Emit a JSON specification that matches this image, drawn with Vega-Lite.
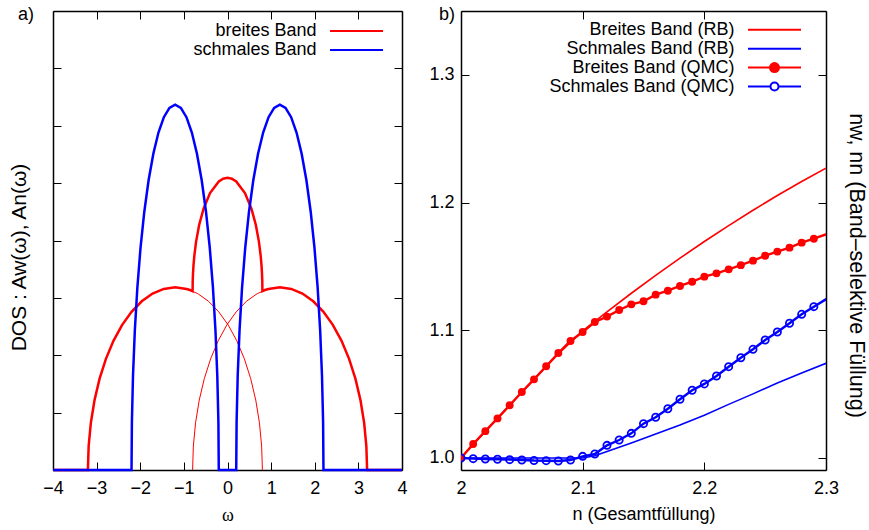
{
  "$schema": "https://vega.github.io/schema/vega-lite/v6.json",
  "background": "white",
  "padding": {"left": 8, "top": 5, "right": 5, "bottom": 5},
  "config": {
    "font": "Liberation Sans",
    "view": {"stroke": null},
    "axis": {"grid": false, "domainColor": "black", "domainWidth": 1.5, "tickColor": "black", "tickWidth": 1, "tickSize": -8, "labelFlush": false, "labelFontSize": 18, "labelColor": "black", "labelFont": "Liberation Sans", "titleFontSize": 18, "titleFontWeight": "normal", "titleColor": "black", "titleFont": "Liberation Sans"},
    "title": {"fontSize": 18, "fontWeight": "normal", "anchor": "start", "frame": "group", "font": "Liberation Sans", "color": "black", "offset": 0, "baseline": "alphabetic"}
  },
  "resolve": {"scale": {"color": "independent"}, "legend": {"color": "independent"}},
  "datasets": {
    "semi": [
      {"w": -3.2, "A": 0, "s": "L"}, {"w": -3.18288, "A": 0.04155, "s": "L"}, {"w": -3.13186, "A": 0.08238, "s": "L"}, {"w": -3.04776, "A": 0.12181, "s": "L"}, {"w": -2.93205, "A": 0.15915, "s": "L"}, {"w": -2.7867, "A": 0.19377, "s": "L"}, {"w": -2.61421, "A": 0.22508, "s": "L"}, {"w": -2.41752, "A": 0.25253, "s": "L"}, {"w": -2.2, "A": 0.27566, "s": "L"}, {"w": -1.96537, "A": 0.29407, "s": "L"}, {"w": -1.71764, "A": 0.30746, "s": "L"}, {"w": -1.46105, "A": 0.31558, "s": "L"}, {"w": -1.2, "A": 0.3183, "s": "L"}, {"w": -0.93895, "A": 0.31558, "s": "L"}, {"w": -0.68236, "A": 0.30746, "s": "L"}, {"w": -0.43463, "A": 0.29407, "s": "L"}, {"w": -0.2, "A": 0.27566, "s": "L"}, {"w": 0.01752, "A": 0.25253, "s": "L"}, {"w": 0.21421, "A": 0.22508, "s": "L"}, {"w": 0.3867, "A": 0.19377, "s": "L"}, {"w": 0.53205, "A": 0.15915, "s": "L"}, {"w": 0.64776, "A": 0.12181, "s": "L"}, {"w": 0.73186, "A": 0.08238, "s": "L"}, {"w": 0.78288, "A": 0.04155, "s": "L"}, {"w": 0.8, "A": 0, "s": "L"},
      {"w": -0.8, "A": 0, "s": "R"}, {"w": -0.78288, "A": 0.04155, "s": "R"}, {"w": -0.73186, "A": 0.08238, "s": "R"}, {"w": -0.64776, "A": 0.12181, "s": "R"}, {"w": -0.53205, "A": 0.15915, "s": "R"}, {"w": -0.3867, "A": 0.19377, "s": "R"}, {"w": -0.21421, "A": 0.22508, "s": "R"}, {"w": -0.01752, "A": 0.25253, "s": "R"}, {"w": 0.2, "A": 0.27566, "s": "R"}, {"w": 0.43463, "A": 0.29407, "s": "R"}, {"w": 0.68236, "A": 0.30746, "s": "R"}, {"w": 0.93895, "A": 0.31558, "s": "R"}, {"w": 1.2, "A": 0.3183, "s": "R"}, {"w": 1.46105, "A": 0.31558, "s": "R"}, {"w": 1.71764, "A": 0.30746, "s": "R"}, {"w": 1.96537, "A": 0.29407, "s": "R"}, {"w": 2.2, "A": 0.27566, "s": "R"}, {"w": 2.41752, "A": 0.25253, "s": "R"}, {"w": 2.61421, "A": 0.22508, "s": "R"}, {"w": 2.7867, "A": 0.19377, "s": "R"}, {"w": 2.93205, "A": 0.15915, "s": "R"}, {"w": 3.04776, "A": 0.12181, "s": "R"}, {"w": 3.13186, "A": 0.08238, "s": "R"}, {"w": 3.18288, "A": 0.04155, "s": "R"}, {"w": 3.2, "A": 0, "s": "R"}
    ],
    "dos": [
      {"w": -4, "A": 0, "b": "breites Band"}, {"w": -3.2, "A": 0, "b": "breites Band"}, {"w": -3.18288, "A": 0.04155, "b": "breites Band"}, {"w": -3.13186, "A": 0.08238, "b": "breites Band"}, {"w": -3.04776, "A": 0.12181, "b": "breites Band"}, {"w": -2.93205, "A": 0.15915, "b": "breites Band"}, {"w": -2.7867, "A": 0.19377, "b": "breites Band"}, {"w": -2.61421, "A": 0.22508, "b": "breites Band"}, {"w": -2.41752, "A": 0.25253, "b": "breites Band"}, {"w": -2.2, "A": 0.27566, "b": "breites Band"}, {"w": -1.96537, "A": 0.29407, "b": "breites Band"}, {"w": -1.71764, "A": 0.30746, "b": "breites Band"}, {"w": -1.46105, "A": 0.31558, "b": "breites Band"}, {"w": -1.2, "A": 0.3183, "b": "breites Band"}, {"w": -0.93895, "A": 0.31558, "b": "breites Band"}, {"w": -0.86, "A": 0.31367, "b": "breites Band"}, {"w": -0.8, "A": 0.31187, "b": "breites Band"}, {"w": -0.798, "A": 0.32605, "b": "breites Band"}, {"w": -0.795, "A": 0.3342, "b": "breites Band"}, {"w": -0.79, "A": 0.34333, "b": "breites Band"}, {"w": -0.78, "A": 0.35611, "b": "breites Band"}, {"w": -0.76, "A": 0.37384, "b": "breites Band"}, {"w": -0.72, "A": 0.39812, "b": "breites Band"}, {"w": -0.65, "A": 0.42697, "b": "breites Band"}, {"w": -0.55, "A": 0.45511, "b": "breites Band"}, {"w": -0.4, "A": 0.48271, "b": "breites Band"}, {"w": -0.2, "A": 0.50297, "b": "breites Band"}, {"w": -0.1, "A": 0.50772, "b": "breites Band"}, {"w": 0, "A": 0.50928, "b": "breites Band"}, {"w": 0.1, "A": 0.50772, "b": "breites Band"}, {"w": 0.2, "A": 0.50297, "b": "breites Band"}, {"w": 0.4, "A": 0.48271, "b": "breites Band"}, {"w": 0.55, "A": 0.45511, "b": "breites Band"}, {"w": 0.65, "A": 0.42697, "b": "breites Band"}, {"w": 0.72, "A": 0.39812, "b": "breites Band"}, {"w": 0.76, "A": 0.37384, "b": "breites Band"}, {"w": 0.78, "A": 0.35611, "b": "breites Band"}, {"w": 0.79, "A": 0.34333, "b": "breites Band"}, {"w": 0.795, "A": 0.3342, "b": "breites Band"}, {"w": 0.798, "A": 0.32605, "b": "breites Band"}, {"w": 0.8, "A": 0.31187, "b": "breites Band"}, {"w": 0.86, "A": 0.31367, "b": "breites Band"}, {"w": 0.93895, "A": 0.31558, "b": "breites Band"}, {"w": 1.2, "A": 0.3183, "b": "breites Band"}, {"w": 1.46105, "A": 0.31558, "b": "breites Band"}, {"w": 1.71764, "A": 0.30746, "b": "breites Band"}, {"w": 1.96537, "A": 0.29407, "b": "breites Band"}, {"w": 2.2, "A": 0.27566, "b": "breites Band"}, {"w": 2.41752, "A": 0.25253, "b": "breites Band"}, {"w": 2.61421, "A": 0.22508, "b": "breites Band"}, {"w": 2.7867, "A": 0.19377, "b": "breites Band"}, {"w": 2.93205, "A": 0.15915, "b": "breites Band"}, {"w": 3.04776, "A": 0.12181, "b": "breites Band"}, {"w": 3.13186, "A": 0.08238, "b": "breites Band"}, {"w": 3.18288, "A": 0.04155, "b": "breites Band"}, {"w": 3.2, "A": 0, "b": "breites Band"}, {"w": 4, "A": 0, "b": "breites Band"},
      {"w": -4, "A": 0, "b": "schmales Band"}, {"w": -2.2, "A": 0, "b": "schmales Band"}, {"w": -2.19144, "A": 0.0831, "b": "schmales Band"}, {"w": -2.16593, "A": 0.16477, "b": "schmales Band"}, {"w": -2.12388, "A": 0.24362, "b": "schmales Band"}, {"w": -2.06603, "A": 0.31831, "b": "schmales Band"}, {"w": -1.99335, "A": 0.38755, "b": "schmales Band"}, {"w": -1.90711, "A": 0.45016, "b": "schmales Band"}, {"w": -1.80876, "A": 0.50506, "b": "schmales Band"}, {"w": -1.7, "A": 0.55133, "b": "schmales Band"}, {"w": -1.58268, "A": 0.58816, "b": "schmales Band"}, {"w": -1.45882, "A": 0.61493, "b": "schmales Band"}, {"w": -1.33053, "A": 0.63117, "b": "schmales Band"}, {"w": -1.2, "A": 0.63662, "b": "schmales Band"}, {"w": -1.06947, "A": 0.63117, "b": "schmales Band"}, {"w": -0.94118, "A": 0.61493, "b": "schmales Band"}, {"w": -0.81732, "A": 0.58816, "b": "schmales Band"}, {"w": -0.7, "A": 0.55133, "b": "schmales Band"}, {"w": -0.59124, "A": 0.50506, "b": "schmales Band"}, {"w": -0.49289, "A": 0.45016, "b": "schmales Band"}, {"w": -0.40665, "A": 0.38755, "b": "schmales Band"}, {"w": -0.33397, "A": 0.31831, "b": "schmales Band"}, {"w": -0.27612, "A": 0.24362, "b": "schmales Band"}, {"w": -0.23407, "A": 0.16477, "b": "schmales Band"}, {"w": -0.20856, "A": 0.0831, "b": "schmales Band"}, {"w": -0.2, "A": 0, "b": "schmales Band"}, {"w": 0.2, "A": 0, "b": "schmales Band"}, {"w": 0.20856, "A": 0.0831, "b": "schmales Band"}, {"w": 0.23407, "A": 0.16477, "b": "schmales Band"}, {"w": 0.27612, "A": 0.24362, "b": "schmales Band"}, {"w": 0.33397, "A": 0.31831, "b": "schmales Band"}, {"w": 0.40665, "A": 0.38755, "b": "schmales Band"}, {"w": 0.49289, "A": 0.45016, "b": "schmales Band"}, {"w": 0.59124, "A": 0.50506, "b": "schmales Band"}, {"w": 0.7, "A": 0.55133, "b": "schmales Band"}, {"w": 0.81732, "A": 0.58816, "b": "schmales Band"}, {"w": 0.94118, "A": 0.61493, "b": "schmales Band"}, {"w": 1.06947, "A": 0.63117, "b": "schmales Band"}, {"w": 1.2, "A": 0.63662, "b": "schmales Band"}, {"w": 1.33053, "A": 0.63117, "b": "schmales Band"}, {"w": 1.45882, "A": 0.61493, "b": "schmales Band"}, {"w": 1.58268, "A": 0.58816, "b": "schmales Band"}, {"w": 1.7, "A": 0.55133, "b": "schmales Band"}, {"w": 1.80876, "A": 0.50506, "b": "schmales Band"}, {"w": 1.90711, "A": 0.45016, "b": "schmales Band"}, {"w": 1.99335, "A": 0.38755, "b": "schmales Band"}, {"w": 2.06603, "A": 0.31831, "b": "schmales Band"}, {"w": 2.12388, "A": 0.24362, "b": "schmales Band"}, {"w": 2.16593, "A": 0.16477, "b": "schmales Band"}, {"w": 2.19144, "A": 0.0831, "b": "schmales Band"}, {"w": 2.2, "A": 0, "b": "schmales Band"}, {"w": 4, "A": 0, "b": "schmales Band"}
    ],
    "rb": [
      {"n": 2.0, "v": 1.0, "s": "Breites Band (RB)"}, {"n": 2.02, "v": 1.021, "s": "Breites Band (RB)"}, {"n": 2.04, "v": 1.0413, "s": "Breites Band (RB)"}, {"n": 2.06, "v": 1.0616, "s": "Breites Band (RB)"}, {"n": 2.08, "v": 1.0815, "s": "Breites Band (RB)"}, {"n": 2.1, "v": 1.0995, "s": "Breites Band (RB)"}, {"n": 2.12, "v": 1.1145, "s": "Breites Band (RB)"}, {"n": 2.14, "v": 1.129, "s": "Breites Band (RB)"}, {"n": 2.16, "v": 1.143, "s": "Breites Band (RB)"}, {"n": 2.18, "v": 1.1565, "s": "Breites Band (RB)"}, {"n": 2.2, "v": 1.1695, "s": "Breites Band (RB)"}, {"n": 2.22, "v": 1.182, "s": "Breites Band (RB)"}, {"n": 2.24, "v": 1.194, "s": "Breites Band (RB)"}, {"n": 2.26, "v": 1.2055, "s": "Breites Band (RB)"}, {"n": 2.28, "v": 1.2165, "s": "Breites Band (RB)"}, {"n": 2.3, "v": 1.227, "s": "Breites Band (RB)"},
      {"n": 2.0, "v": 1.0, "s": "Schmales Band (RB)"}, {"n": 2.05, "v": 1.0, "s": "Schmales Band (RB)"}, {"n": 2.1, "v": 1.0, "s": "Schmales Band (RB)"}, {"n": 2.11, "v": 1.0017, "s": "Schmales Band (RB)"}, {"n": 2.12, "v": 1.005, "s": "Schmales Band (RB)"}, {"n": 2.14, "v": 1.0118, "s": "Schmales Band (RB)"}, {"n": 2.16, "v": 1.0188, "s": "Schmales Band (RB)"}, {"n": 2.18, "v": 1.0258, "s": "Schmales Band (RB)"}, {"n": 2.2, "v": 1.0335, "s": "Schmales Band (RB)"}, {"n": 2.22, "v": 1.042, "s": "Schmales Band (RB)"}, {"n": 2.24, "v": 1.0502, "s": "Schmales Band (RB)"}, {"n": 2.26, "v": 1.0588, "s": "Schmales Band (RB)"}, {"n": 2.28, "v": 1.0665, "s": "Schmales Band (RB)"}, {"n": 2.3, "v": 1.0741, "s": "Schmales Band (RB)"}
    ],
    "qmc": [
      {"n": 2.0, "v": 1.0, "s": "Breites Band (QMC)"}, {"n": 2.01, "v": 1.011, "s": "Breites Band (QMC)"}, {"n": 2.02, "v": 1.021, "s": "Breites Band (QMC)"}, {"n": 2.03, "v": 1.031, "s": "Breites Band (QMC)"}, {"n": 2.04, "v": 1.0413, "s": "Breites Band (QMC)"}, {"n": 2.05, "v": 1.0517, "s": "Breites Band (QMC)"}, {"n": 2.06, "v": 1.0616, "s": "Breites Band (QMC)"}, {"n": 2.07, "v": 1.0718, "s": "Breites Band (QMC)"}, {"n": 2.08, "v": 1.0822, "s": "Breites Band (QMC)"}, {"n": 2.09, "v": 1.0916, "s": "Breites Band (QMC)"}, {"n": 2.1, "v": 1.0987, "s": "Breites Band (QMC)"}, {"n": 2.11, "v": 1.1065, "s": "Breites Band (QMC)"}, {"n": 2.12, "v": 1.1107, "s": "Breites Band (QMC)"}, {"n": 2.13, "v": 1.1159, "s": "Breites Band (QMC)"}, {"n": 2.14, "v": 1.1203, "s": "Breites Band (QMC)"}, {"n": 2.15, "v": 1.1227, "s": "Breites Band (QMC)"}, {"n": 2.16, "v": 1.1279, "s": "Breites Band (QMC)"}, {"n": 2.17, "v": 1.131, "s": "Breites Band (QMC)"}, {"n": 2.18, "v": 1.1347, "s": "Breites Band (QMC)"}, {"n": 2.19, "v": 1.138, "s": "Breites Band (QMC)"}, {"n": 2.2, "v": 1.142, "s": "Breites Band (QMC)"}, {"n": 2.21, "v": 1.1446, "s": "Breites Band (QMC)"}, {"n": 2.22, "v": 1.1477, "s": "Breites Band (QMC)"}, {"n": 2.23, "v": 1.151, "s": "Breites Band (QMC)"}, {"n": 2.24, "v": 1.1545, "s": "Breites Band (QMC)"}, {"n": 2.25, "v": 1.1584, "s": "Breites Band (QMC)"}, {"n": 2.26, "v": 1.1616, "s": "Breites Band (QMC)"}, {"n": 2.27, "v": 1.1647, "s": "Breites Band (QMC)"}, {"n": 2.28, "v": 1.1686, "s": "Breites Band (QMC)"}, {"n": 2.29, "v": 1.1717, "s": "Breites Band (QMC)"}, {"n": 2.31, "v": 1.1785, "s": "Breites Band (QMC)"},
      {"n": 2.0, "v": 1.0, "s": "Schmales Band (QMC)"}, {"n": 2.01, "v": 0.9995, "s": "Schmales Band (QMC)"}, {"n": 2.02, "v": 0.9992, "s": "Schmales Band (QMC)"}, {"n": 2.03, "v": 0.999, "s": "Schmales Band (QMC)"}, {"n": 2.04, "v": 0.9987, "s": "Schmales Band (QMC)"}, {"n": 2.05, "v": 0.9984, "s": "Schmales Band (QMC)"}, {"n": 2.06, "v": 0.998, "s": "Schmales Band (QMC)"}, {"n": 2.07, "v": 0.9979, "s": "Schmales Band (QMC)"}, {"n": 2.08, "v": 0.9976, "s": "Schmales Band (QMC)"}, {"n": 2.09, "v": 0.9984, "s": "Schmales Band (QMC)"}, {"n": 2.1, "v": 1.0013, "s": "Schmales Band (QMC)"}, {"n": 2.11, "v": 1.0031, "s": "Schmales Band (QMC)"}, {"n": 2.12, "v": 1.0099, "s": "Schmales Band (QMC)"}, {"n": 2.13, "v": 1.0141, "s": "Schmales Band (QMC)"}, {"n": 2.14, "v": 1.0193, "s": "Schmales Band (QMC)"}, {"n": 2.15, "v": 1.0269, "s": "Schmales Band (QMC)"}, {"n": 2.16, "v": 1.0319, "s": "Schmales Band (QMC)"}, {"n": 2.17, "v": 1.0386, "s": "Schmales Band (QMC)"}, {"n": 2.18, "v": 1.046, "s": "Schmales Band (QMC)"}, {"n": 2.19, "v": 1.053, "s": "Schmales Band (QMC)"}, {"n": 2.2, "v": 1.058, "s": "Schmales Band (QMC)"}, {"n": 2.21, "v": 1.0642, "s": "Schmales Band (QMC)"}, {"n": 2.22, "v": 1.0715, "s": "Schmales Band (QMC)"}, {"n": 2.23, "v": 1.0785, "s": "Schmales Band (QMC)"}, {"n": 2.24, "v": 1.0851, "s": "Schmales Band (QMC)"}, {"n": 2.25, "v": 1.0924, "s": "Schmales Band (QMC)"}, {"n": 2.26, "v": 1.0987, "s": "Schmales Band (QMC)"}, {"n": 2.27, "v": 1.1055, "s": "Schmales Band (QMC)"}, {"n": 2.28, "v": 1.1125, "s": "Schmales Band (QMC)"}, {"n": 2.29, "v": 1.1185, "s": "Schmales Band (QMC)"}, {"n": 2.31, "v": 1.1301, "s": "Schmales Band (QMC)"}
    ]
  },
  "spacing": 20,
  "hconcat": [
    {
      "width": 349, "height": 459,
      "title": {"text": "a)", "dx": -35, "dy": 17},
      "layer": [
        {
          "data": {"name": "semi"},
          "mark": {"type": "line", "color": "#ff0000", "strokeWidth": 1},
          "encoding": {
            "x": {"field": "w", "type": "quantitative", "scale": {"domain": [-4, 4], "nice": false, "zero": false},
                  "axis": {"orient": "bottom", "values": [-4, -3, -2, -1, 0, 1, 2, 3, 4], "labelPadding": 17, "title": "ω", "titleFont": "Liberation Serif", "titleY": 50, "titleBaseline": "alphabetic"}},
            "y": {"field": "A", "type": "quantitative", "scale": {"domain": [0, 0.8], "nice": false},
                  "axis": {"orient": "left", "values": [0, 0.1, 0.2, 0.3, 0.4, 0.5, 0.6, 0.7, 0.8], "labels": false, "title": "DOS : Aw(ω), An(ω)", "titleFontSize": 21, "titleX": -34, "titleY": 246, "titleBaseline": "middle", "titleAngle": -90}},
            "detail": {"field": "s"}
          }
        },
        {
          "data": {"name": "dos"},
          "mark": {"type": "line", "strokeWidth": 2.5},
          "encoding": {
            "x": {"field": "w", "type": "quantitative", "axis": {"orient": "top", "values": [-4, -3, -2, -1, 0, 1, 2, 3, 4], "labels": false, "title": null}},
            "y": {"field": "A", "type": "quantitative", "axis": {"orient": "right", "values": [0, 0.1, 0.2, 0.3, 0.4, 0.5, 0.6, 0.7, 0.8], "labels": false, "title": null}},
            "color": {"field": "b", "type": "nominal", "scale": {"domain": ["breites Band", "schmales Band"], "range": ["#ff0000", "#0000ff"]},
                      "legend": {"title": null, "orient": "none", "legendX": 294.5, "legendY": 11, "padding": 0, "rowPadding": 1, "symbolType": "M-3.3125,0H3.3125", "symbolSize": 256, "symbolStrokeWidth": 2, "labelFontSize": 18, "labelFont": "Liberation Sans", "labelColor": "black", "labelAlign": "right", "labelOffset": -49, "labelLimit": 400}}
          }
        }
      ],
      "resolve": {"axis": {"x": "independent", "y": "independent"}}
    },
    {
      "width": 365, "height": 459,
      "title": {"text": "b)", "dx": -22, "dy": 17},
      "layer": [
        {
          "mark": {"type": "rule", "strokeDash": [1, 3], "color": "black", "strokeWidth": 1},
          "encoding": {"y": {"datum": 1.0, "axis": null}}
        },
        {
          "data": {"name": "rb"},
          "mark": {"type": "line", "strokeWidth": 1.6, "clip": true},
          "encoding": {
            "x": {"field": "n", "type": "quantitative", "scale": {"domain": [2, 2.3], "nice": false, "zero": false},
                  "axis": {"orient": "bottom", "values": [2, 2.1, 2.2, 2.3], "format": "~g", "labelPadding": 17, "title": "n (Gesamtfüllung)", "titleY": 49, "titleBaseline": "alphabetic"}},
            "y": {"field": "v", "type": "quantitative", "scale": {"domain": [0.9906, 1.35], "nice": false, "zero": false},
                  "axis": {"orient": "left", "values": [1.0, 1.1, 1.2, 1.3], "format": ".1f", "labelPadding": 15, "title": null}},
            "color": {"field": "s", "type": "nominal",
                      "scale": {"domain": ["Breites Band (RB)", "Schmales Band (RB)", "Breites Band (QMC)", "Schmales Band (QMC)"], "range": ["#ff0000", "#0000ff", "#ff0000", "#0000ff"]},
                      "legend": {"title": null, "orient": "none", "legendX": 304.5, "legendY": 9.8, "padding": 0, "rowPadding": 0.9, "symbolType": "M-3.3125,0H3.3125", "symbolSize": 256, "symbolStrokeWidth": 2, "labelFontSize": 18, "labelFont": "Liberation Sans", "labelColor": "black", "labelAlign": "right", "labelOffset": -49, "labelLimit": 400,
                                 "encode": {"symbols": {"update": {
                                   "shape": {"signal": "datum.value === 'Breites Band (QMC)' ? 'M-3.3125,0H3.3125M0.5625,0A0.5625,0.5625,0,1,1,-0.5625,0A0.5625,0.5625,0,1,1,0.5625,0Z' : datum.value === 'Schmales Band (QMC)' ? 'M-3.3125,0H-0.5M0.5,0H3.3125M0.5,0A0.5,0.5,0,1,1,-0.5,0A0.5,0.5,0,1,1,0.5,0Z' : 'M-3.3125,0H3.3125'"},
                                   "fill": {"signal": "datum.value === 'Breites Band (QMC)' ? '#ff0000' : datum.value === 'Schmales Band (QMC)' ? '#ffffff' : 'transparent'"}
                                 }}}}}
          }
        },
        {
          "data": {"name": "qmc"},
          "mark": {"type": "line", "strokeWidth": 2.4, "clip": true},
          "encoding": {
            "x": {"field": "n", "type": "quantitative", "axis": null},
            "y": {"field": "v", "type": "quantitative", "axis": null},
            "color": {"field": "s", "type": "nominal"}
          }
        },
        {
          "data": {"name": "qmc"},
          "transform": [{"filter": "datum.s === 'Breites Band (QMC)'"}],
          "mark": {"type": "point", "shape": "circle", "filled": true, "size": 62, "color": "#ff0000", "opacity": 1, "clip": true},
          "encoding": {
            "x": {"field": "n", "type": "quantitative", "axis": {"orient": "top", "values": [2, 2.1, 2.2, 2.3], "labels": false, "title": null}},
            "y": {"field": "v", "type": "quantitative", "axis": {"orient": "right", "values": [1.0, 1.1, 1.2, 1.3], "labels": false, "title": "nw, nn (Band–selektive Füllung)", "titleFontSize": 21.5, "titleX": 29, "titleY": 254, "titleAngle": 90, "titleBaseline": "middle"}}
          }
        },
        {
          "data": {"name": "qmc"},
          "transform": [{"filter": "datum.s === 'Schmales Band (QMC)'"}],
          "mark": {"type": "point", "shape": "circle", "filled": false, "size": 52, "color": "#0000ff", "strokeWidth": 1.8, "opacity": 1, "clip": true},
          "encoding": {
            "x": {"field": "n", "type": "quantitative", "axis": null},
            "y": {"field": "v", "type": "quantitative", "axis": null}
          }
        }
      ],
      "resolve": {"axis": {"x": "independent", "y": "independent"}}
    }
  ]
}
